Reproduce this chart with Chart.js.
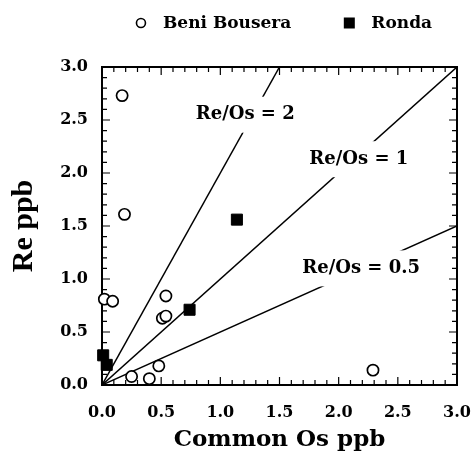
<!DOCTYPE html>
<html lang="en">
<head>
<meta charset="UTF-8" />
<title>Re vs common Os</title>
<script src="https://cdn.jsdelivr.net/npm/chart.js@4"></script>
<style>
  html, body { margin: 0; padding: 0; background: #fff; }
  #wrap { width: 472px; height: 459px; }
</style>
</head>
<body>
<div id="wrap"><canvas id="myChart"></canvas></div>
<script>
// Beni Bousera (open circles)
const beniOs = [0.17, 0.19, 0.02, 0.09, 0.54, 0.51, 0.54, 0.48, 0.25, 0.40, 2.29];
const beniRe = [2.73, 1.61, 0.81, 0.79, 0.84, 0.63, 0.65, 0.18, 0.08, 0.06, 0.14];
// Ronda (filled squares)
const rondaOs = [1.14, 0.74, 0.01, 0.04];
const rondaRe = [1.56, 0.71, 0.28, 0.19];
// reference lines Re/Os and where their labels sit (data units)
const ratios = [2, 1, 0.5];
const ratioLabelOs = [1.21, 2.17, 2.19];
const ratioLabelRe = [2.55, 2.13, 1.10];
const axisTicks = [0, 0.5, 1, 1.5, 2, 2.5, 3];
const axisMax = 3;

const SERIF = '"DejaVu Serif", serif';

// frame + inward ticks on all four sides
const frameTicks = {
  id: 'frameTicks',
  beforeDatasetsDraw(chart) {
    const { ctx, chartArea: a, scales: { x, y } } = chart;
    ctx.save();
    ctx.strokeStyle = '#000';
    ctx.lineWidth = 1.2;
    ctx.beginPath();
    for (let i = 0; i <= 30; i++) {
      const v = i / 10;
      const len = i % 5 === 0 ? 8 : 5;
      const px = x.getPixelForValue(v);
      ctx.moveTo(px, a.bottom); ctx.lineTo(px, a.bottom - len);
      ctx.moveTo(px, a.top); ctx.lineTo(px, a.top + len);
      const py = y.getPixelForValue(v);
      ctx.moveTo(a.left, py); ctx.lineTo(a.left + len, py);
      ctx.moveTo(a.right, py); ctx.lineTo(a.right - len, py);
    }
    ctx.stroke();
    ctx.lineWidth = 2;
    ctx.strokeRect(a.left, a.top, a.right - a.left, a.bottom - a.top);
    ctx.restore();
  }
};

// "Re/Os = n" labels, white box breaks the line
const ratioLabels = {
  id: 'ratioLabels',
  afterDatasetsDraw(chart) {
    const { ctx, scales: { x, y } } = chart;
    ctx.save();
    ctx.font = 'bold 18px ' + SERIF;
    ctx.textAlign = 'center';
    ctx.textBaseline = 'middle';
    ratios.forEach((r, i) => {
      const txt = 'Re/Os = ' + r;
      const px = x.getPixelForValue(ratioLabelOs[i]);
      const py = y.getPixelForValue(ratioLabelRe[i]);
      const w = ctx.measureText(txt).width;
      ctx.fillStyle = '#fff';
      ctx.fillRect(px - w / 2 - 4, py - 18, w + 8, 36);
      ctx.fillStyle = '#000';
      ctx.fillText(txt, px, py);
    });
    ctx.restore();
  }
};

// legend row above the plot
const topLegend = {
  id: 'topLegend',
  afterDraw(chart) {
    const { ctx, chartArea: a } = chart;
    const items = chart.data.datasets.filter(d => d.inLegend);
    ctx.save();
    ctx.font = 'bold 17px ' + SERIF;
    ctx.textBaseline = 'middle';
    ctx.textAlign = 'left';
    const markW = 12, markGap = 16, itemGap = 52;
    const widths = items.map(d => markW + markGap + ctx.measureText(d.label).width);
    const total = widths.reduce((s, w) => s + w, 0) + itemGap * (items.length - 1);
    let xPos = (a.left + a.right) / 2 + 4 - total / 2;
    const yMid = 23;
    items.forEach((d, i) => {
      const cx = xPos + markW / 2;
      ctx.strokeStyle = '#000';
      ctx.fillStyle = '#000';
      if (d.pointStyle === 'circle') {
        ctx.lineWidth = 1.6;
        ctx.beginPath();
        ctx.arc(cx, yMid, 4.5, 0, Math.PI * 2);
        ctx.stroke();
      } else {
        ctx.fillRect(cx - 5.5, yMid - 5.5, 11, 11);
      }
      ctx.fillText(d.label, xPos + markW + markGap, yMid + 1);
      xPos += widths[i] + itemGap;
    });
    ctx.restore();
  }
};

const tickFont = { family: SERIF, weight: 'bold', size: 16 };

const lineSets = ratios.map(r => {
  const xEnd = Math.min(axisMax, axisMax / r);
  return {
    label: 'Re/Os = ' + r,
    data: [{ x: 0, y: 0 }, { x: xEnd, y: r * xEnd }],
    showLine: true,
    borderColor: '#000',
    borderWidth: 1.5,
    pointRadius: 0,
    fill: false,
    order: 3
  };
});

const ctx = document.getElementById('myChart').getContext('2d');
const myChart = new Chart(ctx, {
  type: 'scatter',
  data: {
    datasets: [
      ...lineSets,
      {
        label: 'Beni Bousera',
        inLegend: true,
        data: beniOs.map((v, i) => ({ x: v, y: beniRe[i] })),
        pointStyle: 'circle',
        pointRadius: 5.6,
        backgroundColor: '#fff',
        borderColor: '#000',
        borderWidth: 1.7,
        clip: false,
        order: 1
      },
      {
        label: 'Ronda',
        inLegend: true,
        data: rondaOs.map((v, i) => ({ x: v, y: rondaRe[i] })),
        pointStyle: 'rect',
        pointRadius: 7.8,
        backgroundColor: '#000',
        borderColor: '#000',
        borderWidth: 1,
        clip: false,
        order: 1
      }
    ]
  },
  options: {
    responsive: true,
    maintainAspectRatio: false,
    animation: false,
    layout: { padding: { left: 0, right: 15, top: 0, bottom: 0 } },
    plugins: {
      legend: { display: false },
      tooltip: { enabled: false }
    },
    scales: {
      x: {
        type: 'linear',
        min: 0,
        max: axisMax,
        afterBuildTicks: s => { s.ticks = axisTicks.map(v => ({ value: v })); },
        afterFit: s => { s.height = 74; s.paddingLeft = 0; s.paddingRight = 0; },
        ticks: {
          callback: v => v.toFixed(1),
          font: tickFont,
          color: '#000',
          padding: 18,
          maxRotation: 0
        },
        grid: { display: false, drawTicks: false },
        border: { display: false },
        title: {
          display: true,
          text: 'Common Os ppb',
          color: '#000',
          font: { family: SERIF, weight: 'bold', size: 23 },
          padding: { top: 0, bottom: 5 }
        }
      },
      x2: {
        type: 'linear',
        position: 'top',
        min: 0,
        max: axisMax,
        ticks: { display: false },
        grid: { display: false, drawTicks: false },
        border: { display: false },
        afterFit: s => { s.height = 67; s.paddingLeft = 0; s.paddingRight = 0; }
      },
      y: {
        type: 'linear',
        min: 0,
        max: axisMax,
        afterBuildTicks: s => { s.ticks = axisTicks.map(v => ({ value: v })); },
        afterFit: s => { s.width = 102; s.paddingTop = 0; s.paddingBottom = 0; },
        ticks: {
          callback: v => v.toFixed(1),
          font: tickFont,
          color: '#000',
          padding: 14
        },
        grid: { display: false, drawTicks: false },
        border: { display: false },
        title: {
          display: true,
          text: 'Re ppb',
          color: '#000',
          font: { family: '"Liberation Serif", serif', weight: 'bold', size: 30 },
          padding: { top: 6, bottom: 0 }
        }
      }
    }
  },
  plugins: [frameTicks, ratioLabels, topLegend]
});
</script>
</body>
</html>
